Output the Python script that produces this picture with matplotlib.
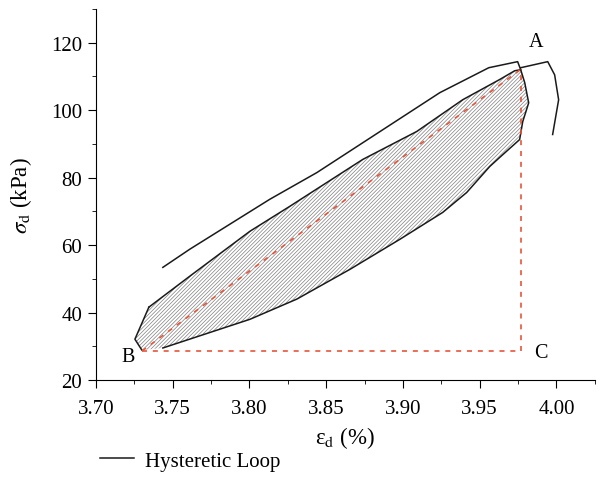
import numpy as np
import matplotlib
matplotlib.use('Agg')
import matplotlib.pyplot as plt
from matplotlib.ticker import MultipleLocator

plt.rcParams['font.family'] = 'Liberation Serif'
plt.rcParams['mathtext.fontset'] = 'stix'
plt.rcParams['hatch.linewidth'] = 0.5

# hatched loop (closed), going B -> upper branch -> A -> lower branch -> B
loop_x = [3.7299, 3.7254, 3.7345, 3.7612, 3.8003, 3.8263, 3.8738, 3.9090, 3.9389,
          3.9630, 3.9728, 3.9767, 3.9793, 3.9819, 3.9799, 3.9780, 3.9760, 3.9630,
          3.9565, 3.9415, 3.9259, 3.8979, 3.8654, 3.8309, 3.8003, 3.7436, 3.7299]
loop_y = [28.9, 32.1, 41.6, 50.8, 64.1, 71.5, 85.4, 93.7, 103.1,
          109.1, 111.7, 112.0, 108.2, 102.2, 99.3, 96.6, 91.3, 86.0,
          83.3, 75.6, 69.7, 61.7, 52.8, 44.0, 38.0, 29.5, 28.9]

# previous loading branch above the loop
upper_x = [3.7436, 3.7612, 3.8133, 3.8439, 3.9240, 3.9559, 3.9747, 3.9767]
upper_y = [53.4, 58.8, 73.6, 81.5, 105.2, 112.6, 114.4, 112.0]

# branch after point A
tail_x = [3.9767, 3.9943, 3.9988, 4.0014, 3.9975]
tail_y = [112.6, 114.4, 110.5, 103.1, 92.8]

pt_A = (3.977, 112.2)
pt_B = (3.730, 28.6)
pt_C = (3.977, 28.6)

fig = plt.figure(figsize=(6.07, 5.02), dpi=100)
ax = fig.add_axes([0.158, 0.241, 0.822, 0.739])

ax.fill(loop_x, loop_y, facecolor='none', edgecolor='0.5', hatch='/' * 9, linewidth=0)
ax.plot(loop_x[2:-1], loop_y[2:-1], color='#1a1a1a', lw=1.1)
ax.plot(loop_x[:3], loop_y[:3], color='#1a1a1a', lw=1.1)
ax.plot(upper_x, upper_y, color='#1a1a1a', lw=1.1, label='Hysteretic Loop')
ax.plot(tail_x, tail_y, color='#1a1a1a', lw=1.1)

red = '#e8553b'
ax.plot([pt_B[0], pt_A[0]], [pt_B[1], pt_A[1]], color=red, lw=1.2, dashes=(3, 3.5))
ax.plot([pt_B[0], pt_C[0]], [pt_B[1], pt_C[1]], color=red, lw=1.2, dashes=(3, 3.5))
ax.plot([pt_C[0], pt_A[0]], [pt_C[1], pt_A[1]], color=red, lw=1.2, dashes=(3, 3.5))

ax.text(3.987, 120.3, 'A', fontsize=14.5, ha='center', va='center')
ax.text(3.7208, 27.1, 'B', fontsize=14.5, ha='center', va='center')
ax.text(3.9897, 28.3, 'C', fontsize=14.5, ha='center', va='center')

ax.set_xlim(3.70, 4.025)
ax.set_ylim(20, 130)
ax.xaxis.set_minor_locator(MultipleLocator(0.025))
ax.yaxis.set_minor_locator(MultipleLocator(10))
ax.set_xticks(np.arange(3.70, 4.001, 0.05))
ax.set_yticks(np.arange(20, 121, 20))
ax.xaxis.set_major_formatter(plt.FuncFormatter(lambda v, p: f'{v:.2f}'))

for s in ['top', 'right']:
    ax.spines[s].set_visible(False)
ax.tick_params(which='major', direction='out', length=6, labelsize=15)
ax.tick_params(axis='x', which='major', pad=8)
ax.tick_params(axis='y', which='major', pad=4)
ax.tick_params(which='minor', direction='out', length=3)

ax.set_xlabel(r'ε$_{\rm d}$ (%)', fontsize=16.5, labelpad=4)
ax.set_ylabel(r'$\sigma_{\rm d}$ (kPa)', fontsize=16.5, labelpad=12)

fig.legend(loc='center left', bbox_to_anchor=(0.134, 0.08), frameon=False,
           handlelength=1.65, handletextpad=0.5, fontsize=15)

fig.savefig('out.png', dpi=100)
